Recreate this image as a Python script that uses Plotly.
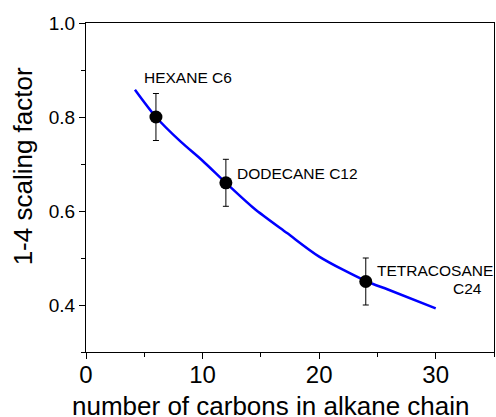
import plotly.graph_objects as go

# Data
carbons = [6, 12, 24]
scaling = [0.80, 0.66, 0.45]
err = [0.05, 0.05, 0.05]
names = ["HEXANE C6", "DODECANE C12", "TETRACOSANE", "C24"]

fit_x = [4.2, 6.0, 8.1, 10.0, 12.0, 14.4, 17.25, 20.0, 24.1, 25.9, 30.0]
fit_y = [0.858, 0.80, 0.748, 0.707, 0.66, 0.606, 0.553, 0.503, 0.45, 0.433, 0.393]

x_ticks = [0, 10, 20, 30]
y_ticks = [0.4, 0.6, 0.8, 1.0]
x_title = "number of carbons in alkane chain"
y_title = "1-4 scaling factor"

font = "Liberation Sans, Arial, sans-serif"

fig = go.Figure()
fig.add_trace(go.Scatter(x=fit_x, y=fit_y, mode="lines", line=dict(color="#0000ff", width=2.5, shape="spline", smoothing=0.8),
                         showlegend=False, hoverinfo="skip"))
fig.add_trace(go.Scatter(x=carbons, y=scaling, mode="markers",
                         marker=dict(color="black", size=13),
                         error_y=dict(type="data", array=err, color="black", thickness=1, width=3),
                         showlegend=False))

ann_font = dict(family=font, size=15.5, color="black")
fig.add_annotation(x=4.8, y=0.884, text=names[0], xanchor="left", yanchor="middle", showarrow=False, font=ann_font)
fig.add_annotation(x=12.8, y=0.679, text=names[1], xanchor="left", yanchor="middle", showarrow=False, font=ann_font)
fig.add_annotation(x=24.8, y=0.474, text=names[2], xanchor="left", yanchor="middle", showarrow=False, font=ann_font)
fig.add_annotation(x=34.1, y=0.436, text=names[3], xanchor="right", yanchor="middle", showarrow=False, font=ann_font)

# axis titles
fig.add_annotation(x=15.8, y=0, yref="paper", text=x_title, xanchor="center", yanchor="middle",
                   yshift=-54, showarrow=False, font=dict(family=font, size=26, color="black"))
fig.add_annotation(x=0, xref="paper", y=0.695, text=y_title, textangle=-90, xanchor="center", yanchor="middle",
                   xshift=-63, showarrow=False, font=dict(family=font, size=26, color="black"))

fig.update_layout(
    width=496, height=417,
    margin=dict(l=86, r=2, t=23, b=65),
    paper_bgcolor="white", plot_bgcolor="white",
    font=dict(family=font, color="black"),
    xaxis=dict(range=[0, 35], tickvals=x_ticks, ticks="outside", ticklen=6, tickwidth=1,
               tickcolor="black", showline=True, linecolor="black", linewidth=1, mirror=True,
               showgrid=False, zeroline=False, tickfont=dict(size=24), automargin=False,
               ticklabelstandoff=-5,
               minor=dict(dtick=5, tick0=0, ticks="outside", ticklen=4, tickcolor="black", showgrid=False)),
    yaxis=dict(range=[0.3, 1.0], tickvals=y_ticks, ticktext=["0.4", "0.6", "0.8", "1.0"],
               ticks="outside", ticklen=6, tickwidth=1,
               tickcolor="black", showline=True, linecolor="black", linewidth=1, mirror=True,
               showgrid=False, zeroline=False, tickfont=dict(size=19), automargin=False,
               minor=dict(dtick=0.1, tick0=0.3, ticks="outside", ticklen=4, tickcolor="black", showgrid=False)),
)

fig.write_html("out.html", config={"displayModeBar": False},
               post_script="document.body.style.margin='0';document.body.style.padding='0';document.body.style.overflow='hidden';")
